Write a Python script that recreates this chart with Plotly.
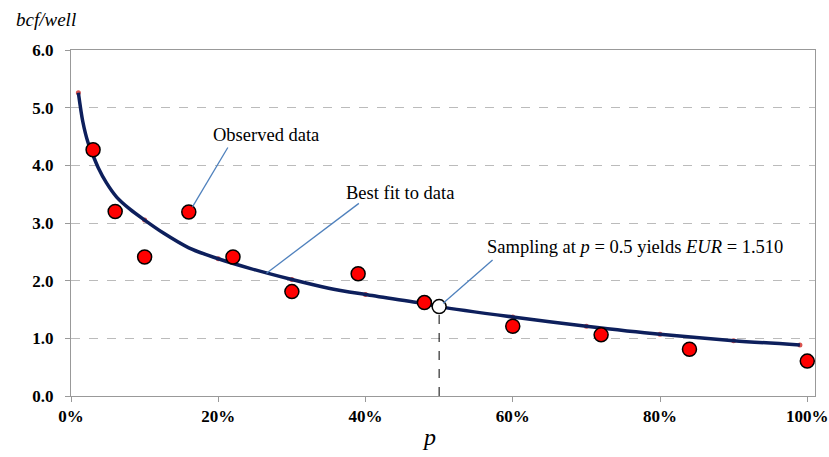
import plotly.graph_objects as go

# Best-fit curve
fit_p = [0.01, 0.016, 0.023, 0.03, 0.037, 0.048, 0.062, 0.080, 0.10, 0.125, 0.16,
         0.20, 0.244, 0.30, 0.35, 0.40, 0.48, 0.50, 0.60, 0.70, 0.80, 0.90, 0.99]
fit_y = [5.26, 4.76, 4.40, 4.17, 3.96, 3.70, 3.45, 3.24, 3.05, 2.83, 2.57,
         2.38, 2.21, 2.02, 1.87, 1.76, 1.60, 1.55, 1.37, 1.21, 1.07, 0.96, 0.885]

# Small markers on the fitted curve
fitmk_p = [0.01, 0.1, 0.2, 0.3, 0.4, 0.5, 0.6, 0.7, 0.8, 0.9, 0.99]
fitmk_y = [5.26, 3.05, 2.38, 2.02, 1.76, 1.55, 1.37, 1.21, 1.07, 0.96, 0.885]

# Observed data
obs_p = [0.03, 0.06, 0.10, 0.16, 0.22, 0.30, 0.39, 0.48, 0.60, 0.72, 0.84, 1.00]
obs_y = [4.27, 3.20, 2.41, 3.19, 2.41, 1.81, 2.12, 1.62, 1.21, 1.06, 0.81, 0.605]

# Sampling point
samp_p = [0.5]
samp_y = [1.55]

y_ticks = [0, 1, 2, 3, 4, 5, 6]
y_ticklabels = ["0.0", "1.0", "2.0", "3.0", "4.0", "5.0", "6.0"]
x_ticks = [0, 0.2, 0.4, 0.6, 0.8, 1.0]
x_ticklabels = ["0%", "20%", "40%", "60%", "80%", "100%"]

SERIF = "Liberation Serif"

fig = go.Figure()

# dashed drop line from sampling point
fig.add_trace(go.Scatter(x=[samp_p[0], samp_p[0]], y=[0, samp_y[0]], mode="lines",
                         line=dict(color="black", width=1, dash="dash"),
                         showlegend=False, hoverinfo="skip"))

fig.add_trace(go.Scatter(x=fitmk_p, y=fitmk_y, mode="markers",
                         marker=dict(color="#d9534f", size=5),
                         showlegend=False))
fig.add_trace(go.Scatter(x=fit_p, y=fit_y, mode="lines",
                         line=dict(color="#0d1f5c", width=3.5, shape="spline", smoothing=0.8),
                         showlegend=False))
fig.add_trace(go.Scatter(x=obs_p, y=obs_y, mode="markers",
                         marker=dict(color="#ff0000", size=14,
                                     line=dict(color="black", width=1.5)),
                         showlegend=False, cliponaxis=False))
fig.add_trace(go.Scatter(x=samp_p, y=samp_y, mode="markers",
                         marker=dict(color="white", size=14,
                                     line=dict(color="black", width=1.5)),
                         showlegend=False))

# Callout lines
callouts = [
    (0.213, 4.31, 0.165, 3.28),
    (0.391, 3.34, 0.2655, 2.13),
    (0.5726, 2.357, 0.5054, 1.607),
]
for x0, y0, x1, y1 in callouts:
    fig.add_shape(type="line", x0=x0, y0=y0, x1=x1, y1=y1, xref="x", yref="y",
                  line=dict(color="#4f81bd", width=1.3))

ann_font = dict(family=SERIF, size=18.5, color="black")
fig.add_annotation(x=0.265, y=4.52, text="Observed data", showarrow=False, font=ann_font)
fig.add_annotation(x=0.447, y=3.52, text="Best fit to data", showarrow=False, font=ann_font)
fig.add_annotation(x=0.766, y=2.59,
                   text="Sampling at <i>p</i> = 0.5 yields <i>EUR</i> = 1.510",
                   showarrow=False, font=ann_font)

# Axis titles
fig.add_annotation(xref="paper", yref="paper", x=-0.077, y=1.087, xanchor="left",
                   yanchor="middle", text="<i>bcf/well</i>", showarrow=False,
                   font=dict(family=SERIF, size=19, color="black"))
fig.add_annotation(xref="x", yref="paper", x=0.486, y=-0.118, xanchor="center",
                   yanchor="middle", text="<i>p</i>", showarrow=False,
                   font=dict(family=SERIF, size=24, color="black"))

fig.update_layout(
    width=829, height=457,
    margin=dict(l=71, r=14, t=50, b=61),
    paper_bgcolor="white", plot_bgcolor="white",
    showlegend=False,
)
fig.update_xaxes(range=[0, 1.0105], tickvals=x_ticks, ticktext=x_ticklabels,
                 showgrid=False, zeroline=False, automargin=False,
                 showline=True, linecolor="#999999", linewidth=1, mirror=True,
                 ticks="outside", ticklen=5, tickcolor="#999999",
                 tickfont=dict(family=SERIF, size=17, color="black", weight="bold"))
fig.update_yaxes(range=[0, 6], tickvals=y_ticks, ticktext=y_ticklabels,
                 showgrid=True, gridcolor="#bbbbbb", griddash="dash", gridwidth=1,
                 zeroline=False, automargin=False,
                 showline=True, linecolor="#999999", linewidth=1, mirror=True,
                 ticks="outside", ticklen=5, tickcolor="#999999",
                 ticklabelstandoff=8,
                 tickfont=dict(family=SERIF, size=17, color="black", weight="bold"))

fig.write_html("out.html", config={"displayModeBar": False},
               post_script="document.body.style.margin='0';")
